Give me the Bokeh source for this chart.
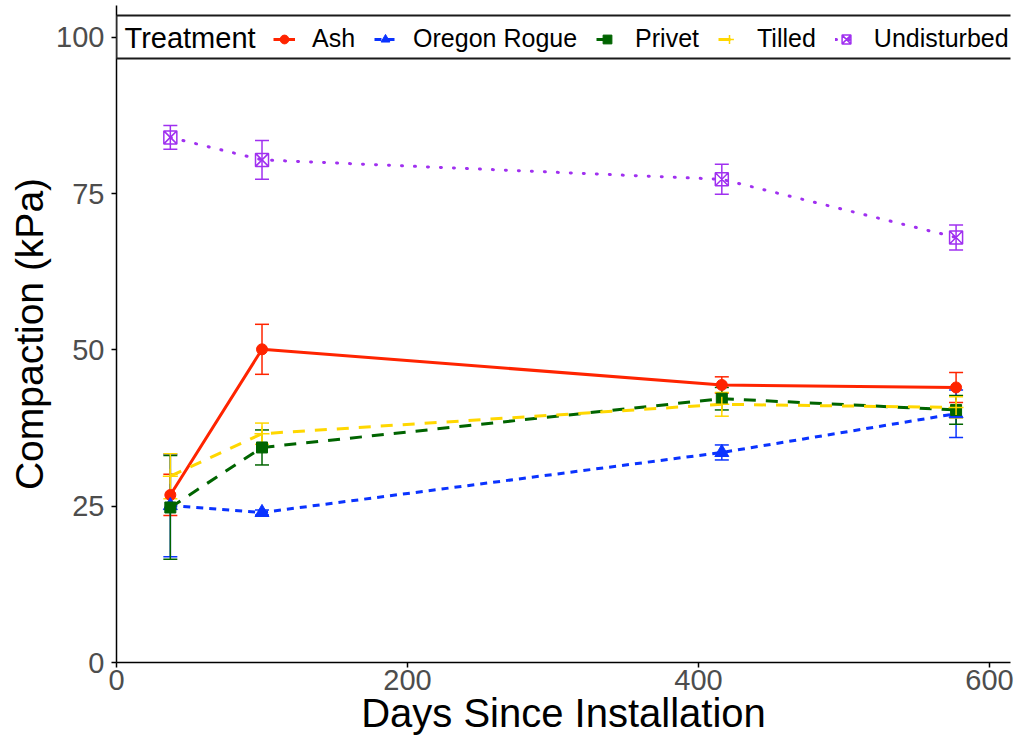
from bokeh.plotting import figure
from bokeh.models import (Range1d, FixedTicker, Whisker, TeeHead, ColumnDataSource,
                          Legend, LegendItem, Label, BoxAnnotation)
from bokeh.embed import file_html
from bokeh.resources import INLINE

# ---------------- data ----------------
days = [37, 100, 416, 577]
treatments = ["Ash", "Oregon Rogue", "Privet", "Tilled", "Undisturbed"]
ash_mean = [26.8, 50.1, 44.4, 44.0]
ash_err = [3.3, 4.0, 1.3, 2.4]
oregon_mean = [25.1, 24.0, 33.6, 39.8]
oregon_err = [8.2, 0.4, 1.2, 3.8]
privet_mean = [24.8, 34.4, 42.2, 40.4]
privet_err = [8.3, 2.8, 1.8, 2.3]
tilled_mean = [29.8, 36.6, 41.3, 40.8]
tilled_err = [3.6, 1.7, 1.9, 1.7]
undist_mean = [84.0, 80.4, 77.3, 68.0]
undist_err = [1.9, 3.1, 2.4, 2.0]
x_ticks = [0, 200, 400, 600]
y_ticks = [0, 25, 50, 75, 100]
x_title = "Days Since Installation"
y_title = "Compaction (kPa)"
legend_title = "Treatment"

means = [ash_mean, oregon_mean, privet_mean, tilled_mean, undist_mean]
errs = [ash_err, oregon_err, privet_err, tilled_err, undist_err]

colors = ["#FF2400", "#0A33FF", "#006400", "#FFD700", "#A030F0"]
dashes = ["solid", "7 6", "12 10", "12 10", "1 12"]
caps = ["butt", "butt", "butt", "butt", "round"]
markers = ["circle", "triangle", "square", "cross", "square_x"]
msizes = [11, 14, 11, 15, 13]

FONT = "Liberation Sans"

p = figure(width=1018, height=737, output_backend="svg", toolbar_location=None,
           x_range=Range1d(0, 614.4), y_range=Range1d(0, 105.1),
           min_border_left=116, min_border_right=8, min_border_top=5,
           min_border_bottom=75, background_fill_color="white",
           border_fill_color="white")
p.xgrid.visible = False
p.ygrid.visible = False
p.outline_line_color = None

p.xaxis.ticker = FixedTicker(ticks=x_ticks)
p.yaxis.ticker = FixedTicker(ticks=y_ticks)
p.xaxis.axis_label = x_title
p.yaxis.axis_label = y_title
for ax in (p.xaxis[0], p.yaxis[0]):
    ax.axis_line_color = "black"
    ax.axis_line_width = 1.5
    ax.major_tick_line_color = "black"
    ax.major_tick_line_width = 1.5
    ax.major_tick_out = 5
    ax.major_tick_in = 0
    ax.minor_tick_line_color = None
    ax.major_label_text_font = FONT
    ax.major_label_text_font_size = "29px"
    ax.major_label_text_color = "#4D4D4D"
    ax.axis_label_text_font = FONT
    ax.axis_label_text_font_style = "normal"
    ax.axis_label_text_color = "black"
p.xaxis.axis_label_text_font_size = "40px"
p.yaxis.axis_label_text_font_size = "39px"
p.xaxis.major_label_standoff = 2
p.xaxis.axis_label_standoff = -2
p.yaxis.major_label_standoff = 7
p.yaxis.axis_label_standoff = 2

sources = []
for m, e in zip(means, errs):
    sources.append(ColumnDataSource(dict(
        x=days, y=m,
        upper=[a + b for a, b in zip(m, e)],
        lower=[a - b for a, b in zip(m, e)])))

for src, c in zip(sources, colors):
    w = Whisker(source=src, base="x", upper="upper", lower="lower",
                line_color=c, line_width=1.5,
                upper_head=TeeHead(size=14, line_color=c, line_width=1.5),
                lower_head=TeeHead(size=14, line_color=c, line_width=1.5))
    p.add_layout(w)

line_rs = []
for src, c, d, cp in zip(sources, colors, dashes, caps):
    line_rs.append(p.line("x", "y", source=src, line_color=c, line_width=3,
                          line_dash=d, line_cap=cp))

pt_rs = []
for src, c, mk, sz in zip(sources, colors, markers, msizes):
    if mk in ("cross", "square_x"):
        r = p.scatter("x", "y", source=src, marker=mk, size=sz, line_color=c,
                      line_width=1.5, fill_color=None)
    else:
        r = p.scatter("x", "y", source=src, marker=mk, size=sz, line_color=c,
                      fill_color=c, line_width=1)
    pt_rs.append(r)

# legend box
box = BoxAnnotation(left=0, right=910, top=647, bottom=604,
                    left_units="screen", right_units="screen",
                    top_units="screen", bottom_units="screen",
                    fill_color="white", fill_alpha=1.0,
                    line_color="#1a1a1a", line_alpha=1.0, line_width=2,
                    level="annotation")
p.add_layout(box)

title = Label(x=8, y=625, x_units="screen", y_units="screen", text=legend_title,
              text_baseline="middle", text_font=FONT, text_font_size="29px",
              text_color="black")
p.add_layout(title)

items = [LegendItem(label=t, renderers=[lr, pr])
         for t, lr, pr in zip(treatments, line_rs, pt_rs)]
legend = Legend(items=items, orientation="horizontal", location=(157, 609),
                glyph_width=22, glyph_height=26, label_standoff=17, spacing=19,
                padding=0, margin=0, border_line_color=None,
                background_fill_alpha=0, label_text_font=FONT,
                label_text_font_size="25px", label_text_color="black")
p.add_layout(legend)

open("out.html", "w").write(file_html(p, INLINE))
